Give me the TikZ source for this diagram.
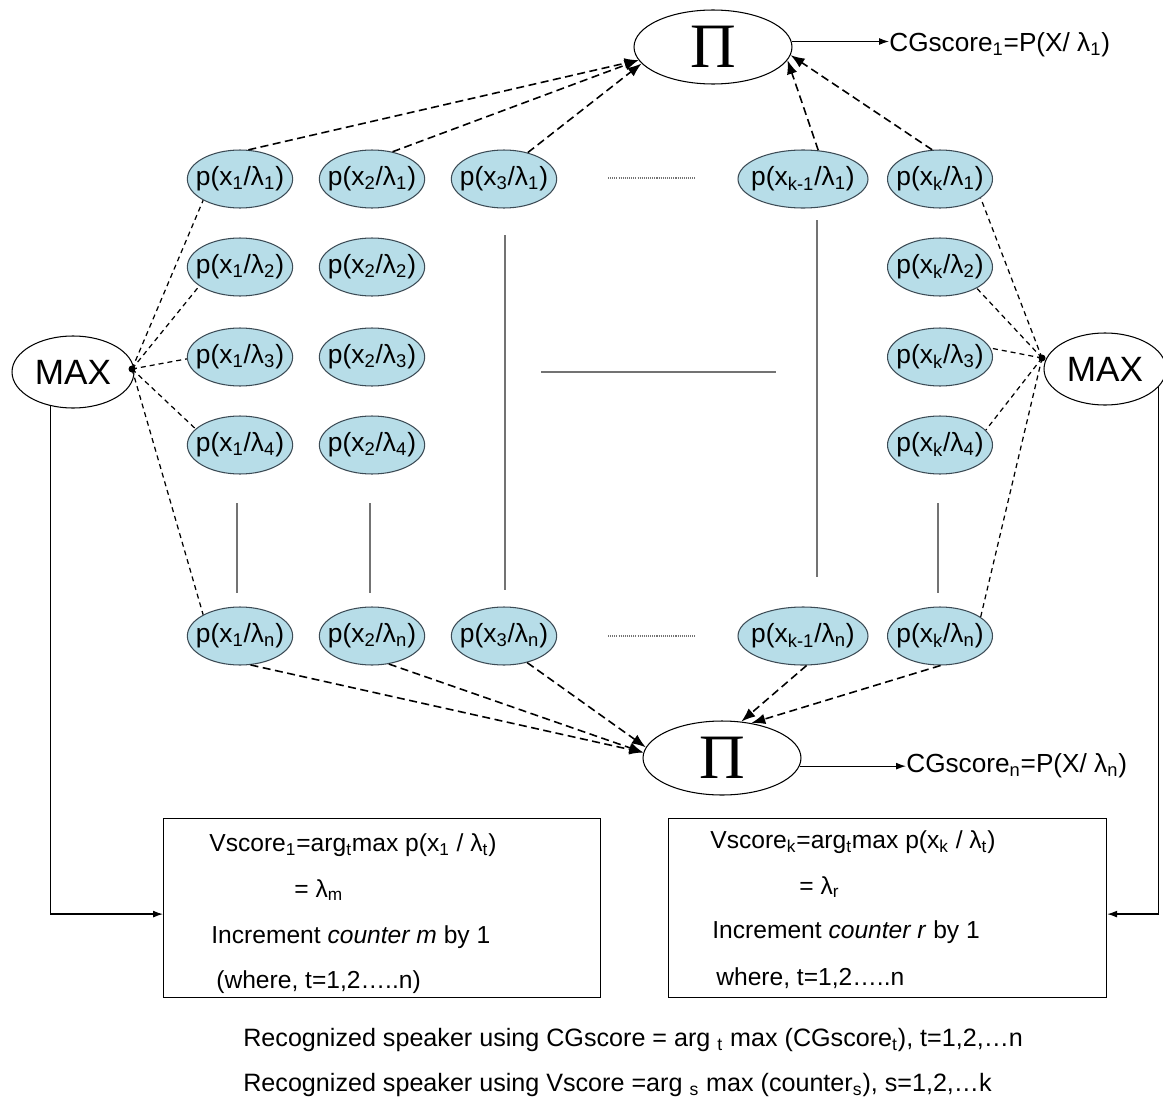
\documentclass[tikz,border=0pt]{standalone}
\usepackage{fontspec}
\setmainfont{Liberation Sans}
\newfontfamily\pifont{Liberation Serif}
\usetikzlibrary{shapes.geometric,arrows.meta,calc}
\definecolor{pblue}{RGB}{183,221,232}
\definecolor{pedge}{RGB}{60,75,85}
\newcommand{\sbx}[1]{\textsubscript{#1}}
\begin{document}
\begin{tikzpicture}[x=0.02cm,y=-0.02cm,
  pe/.style={ellipse, draw=pedge, line width=0.6pt, fill=pblue, minimum width=2.1cm, minimum height=1.16cm, inner xsep=-3.9pt, inner ysep=0pt, font=\fontsize{15}{15}\selectfont},
  pew/.style={pe, minimum width=2.6cm},
  prod/.style={ellipse, draw, line width=0.6pt, minimum width=3.16cm, minimum height=1.48cm, inner sep=0pt, font=\pifont\fontsize{36}{36}\selectfont},
  maxe/.style={ellipse, draw, line width=0.6pt, minimum width=2.44cm, minimum height=1.44cm, inner sep=0pt, font=\fontsize{20}{20}\selectfont},
  bigdash/.style={line width=0.9pt, dash pattern=on 0.16cm off 0.09cm, -{Latex[length=0.28cm,width=0.21cm]}},
  fandash/.style={line width=0.7pt, dash pattern=on 0.1cm off 0.08cm},
  sep/.style={draw=black!55, line width=0.6pt},
  dotsep/.style={draw=black!55, line width=0.8pt, dash pattern=on 0.6pt off 0.6pt},
  boxe/.style={draw, line width=0.7pt, anchor=north west, minimum height=3.58cm, inner sep=0pt},
  txt/.style={anchor=west, inner sep=0pt, font=\fontsize{14}{14}\selectfont},
  hub/.style={circle, fill, inner sep=0pt, minimum size=0.14cm},
  harrow/.style={line width=0.7pt, -{Latex[length=0.2cm,width=0.14cm]}},
]
\fill[white] (0,0) rectangle (1163,1102);
\useasboundingbox (0,0) rectangle (1163,1102);

% product nodes
\node[prod] (P1) at (713,47) {Π};
\node[prod] (P2) at (722,758) {Π};

% max nodes
\node[maxe] (ML) at (73,372) {MAX};
\node[maxe] (MR) at (1105,369) {MAX};
\node[hub] (dL) at (132,369) {};
\node[hub] (dR) at (1042,358) {};

% probability ellipses
\node[pe] (a11) at (240,179) {p(x\sbx{1}/λ\sbx{1})};
\node[pe] (a12) at (240,267) {p(x\sbx{1}/λ\sbx{2})};
\node[pe] (a13) at (240,357) {p(x\sbx{1}/λ\sbx{3})};
\node[pe] (a14) at (240,445) {p(x\sbx{1}/λ\sbx{4})};
\node[pe] (a1n) at (240,636) {p(x\sbx{1}/λ\sbx{n})};

\node[pe] (a21) at (372,179) {p(x\sbx{2}/λ\sbx{1})};
\node[pe] (a22) at (372,267) {p(x\sbx{2}/λ\sbx{2})};
\node[pe] (a23) at (372,357) {p(x\sbx{2}/λ\sbx{3})};
\node[pe] (a24) at (372,445) {p(x\sbx{2}/λ\sbx{4})};
\node[pe] (a2n) at (372,636) {p(x\sbx{2}/λ\sbx{n})};

\node[pe] (a31) at (504,179) {p(x\sbx{3}/λ\sbx{1})};
\node[pe] (a3n) at (504,636) {p(x\sbx{3}/λ\sbx{n})};

\node[pew] (am1) at (803,179) {p(x\sbx{k-1}/λ\sbx{1})};
\node[pew] (amn) at (803,636) {p(x\sbx{k-1}/λ\sbx{n})};

\node[pe] (ak1) at (940,179) {p(x\sbx{k}/λ\sbx{1})};
\node[pe] (ak2) at (940,267) {p(x\sbx{k}/λ\sbx{2})};
\node[pe] (ak3) at (940,357) {p(x\sbx{k}/λ\sbx{3})};
\node[pe] (ak4) at (940,445) {p(x\sbx{k}/λ\sbx{4})};
\node[pe] (akn) at (940,636) {p(x\sbx{k}/λ\sbx{n})};

% continuation lines
\draw[dotsep] (608,178) -- (695,178);
\draw[dotsep] (608,636) -- (695,636);
\draw[sep] (541,372) -- (776,372);
\draw[sep] (505,235) -- (505,590);
\draw[sep] (817,220) -- (817,577);
\draw[sep] (237,503) -- (237,593);
\draw[sep] (370,503) -- (370,593);
\draw[sep] (938,503) -- (938,593);

% arrows to top product
\draw[bigdash] (a11.74) -- (P1.190);
\draw[bigdash] (a21.53) -- (P1.190);
\draw[bigdash] (a31.48) -- (P1.193);
\draw[bigdash] (am1.62) -- (P1.350);
\draw[bigdash] (ak1.105) -- (P1.354);

% arrows to bottom product
\draw[bigdash] (a1n.290) -- (P2.176);
\draw[bigdash] (a2n.301) -- (P2.176);
\draw[bigdash] (a3n.311) -- (P2.172);
\draw[bigdash] (amn.277) -- (P2.62);
\draw[bigdash] (akn.271) -- (P2.50);

% fan to max
\draw[fandash] (dL.center) -- (a11.210);
\draw[fandash] (dL.center) -- (a12.205);
\draw[fandash] (dL.center) -- (a13.182);
\draw[fandash] (dL.center) -- (a14.160);
\draw[fandash] (dL.center) -- (a1n.150);
\draw[fandash] (dR.center) -- (ak1.335);
\draw[fandash] (dR.center) -- (ak2.330);
\draw[fandash] (dR.center) -- (ak3.10);
\draw[fandash] (dR.center) -- (ak4.18);
\draw[fandash] (dR.center) -- (akn.25);

% CG scores
\node[txt, font=\fontsize{14.9}{15}\selectfont] (cg1) at (889,45) {CGscore\sbx{1}=P(X/ λ\sbx{1})};
\node[txt, font=\fontsize{14.9}{15}\selectfont] (cgn) at (906,766) {CGscore\sbx{n}=P(X/ λ\sbx{n})};
\draw[harrow] (P1.4) -- (P1.4 -| cg1.west);
\draw[harrow] (P2.354) -- (P2.354 -| cgn.west);

% boxes
\node[boxe, minimum width=8.74cm] (B1) at (163,818) {};
\node[boxe, minimum width=8.76cm] (B2) at (668,818) {};
\draw[harrow] (ML.236) |- ($(B1.west)+(0,6)$);
\draw[harrow] (MR.341) |- ($(B2.east)+(0,6)$);

\node[txt] (t11) at (209,845) {Vscore\sbx{1}=arg\sbx{t}max p(x\sbx{1} / λ\sbx{t})};
\node[txt] (t12) at (294,890) {= λ\sbx{m}};
\node[txt] (t13) at (211,937) {Increment \textit{counter m} by 1};
\node[txt] (t14) at (216,982) {(where, t=1,2…..n)};

\node[txt] (t21) at (710,842) {Vscore\sbx{k}=arg\sbx{t}max p(x\sbx{k} / λ\sbx{t})};
\node[txt] (t22) at (799,887) {= λ\sbx{r}};
\node[txt] (t23) at (712,932) {Increment \textit{counter r} by 1};
\node[txt] (t24) at (716,978) {where, t=1,2…..n};

\node[txt, font=\fontsize{14.3}{15}\selectfont] (r1) at (243,1040) {Recognized speaker using CGscore = arg \sbx{t} max (CGscore\sbx{t}), t=1,2,…n};
\node[txt, font=\fontsize{14.3}{15}\selectfont] (r2) at (243,1085) {Recognized speaker using Vscore =arg \sbx{s} max (counter\sbx{s}), s=1,2,…k};
\end{tikzpicture}
\end{document}
